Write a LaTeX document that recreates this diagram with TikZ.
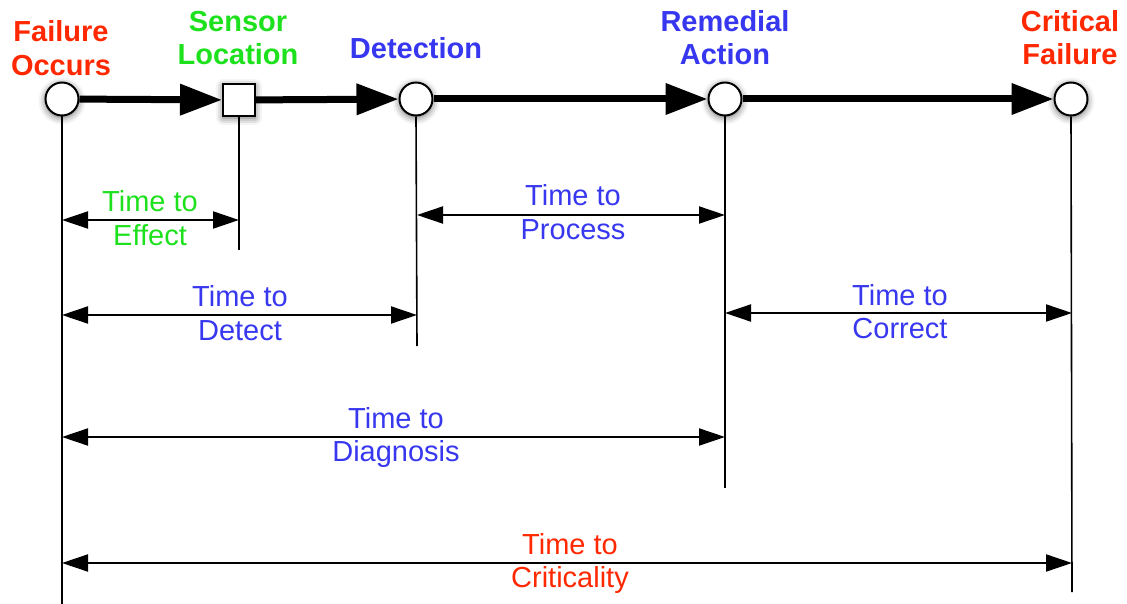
\documentclass[tikz,border=0pt]{standalone}
\usepackage{fontspec}
\setmainfont{Liberation Sans}
\usetikzlibrary{arrows.meta,shadows.blur}

\definecolor{alarmred}{RGB}{255,40,0}
\definecolor{sensegreen}{RGB}{30,225,30}
\definecolor{actblue}{RGB}{55,55,240}

\tikzset{
  softshadow/.style={blur shadow={shadow xshift=0pt, shadow yshift=-2pt,
      shadow blur radius=7pt, shadow opacity=60}},
  event/.style={circle, draw, line width=2pt, fill=white,
      minimum size=33pt, inner sep=0pt, softshadow},
  sensor/.style={rectangle, draw, line width=2pt, fill=white,
      minimum size=32pt, inner sep=0pt, softshadow},
  flow/.style={line width=7pt, -{Triangle[length=42pt,width=30pt]}},
  span/.style={line width=2pt,
      {Triangle[length=26pt,width=17pt]}-{Triangle[length=26pt,width=17pt]}},
  marker/.style={line width=1.6pt},
  % the base anchor of a two-line node sits on its last line
  headline/.style={font=\fontsize{29}{33.5}\selectfont\bfseries,
      align=center, anchor=base, inner sep=0pt},
  spanlabel/.style={font=\fontsize{29}{33.5}\selectfont,
      align=center, anchor=base, inner sep=0pt},
}

\begin{document}
\begin{tikzpicture}[x=1pt, y=-1pt]
  \useasboundingbox (0,0) rectangle (1127,604);

  % milestone labels
  \node[headline, text=alarmred]   (lF) at (61,75.5)  {Failure\\Occurs};
  \node[headline, text=sensegreen] (lS) at (238,65)   {Sensor\\Location};
  \node[headline, text=actblue]    (lD) at (416,58.5) {Detection};
  \node[headline, text=actblue]    (lR) at (725,65)   {Remedial\\Action};
  \node[headline, text=alarmred]   (lC) at (1070,65)  {Critical\\Failure};

  % lower ends of the marker lines
  \coordinate (bF) at (62,604);
  \coordinate (bS) at (239,250);
  \coordinate (bD) at (417,346);
  \coordinate (bR) at (725,488);
  \coordinate (bC) at (1072,592);

  % milestones on the time line
  \node[event]  (F) at (62,99)   {};
  \node[sensor] (S) at (239,100) {};
  \node[event]  (D) at (416,99)  {};
  \node[event]  (R) at (725,99)  {};
  \node[event]  (C) at (1071,99) {};

  \draw[marker] (F.south) -- (bF);
  \draw[marker] (S.south) -- (bS);
  \draw[marker] (D.south) -- (bD);
  \draw[marker] (R.south) -- (bR);
  \draw[marker] (C.south) -- (bC);

  % time line
  \draw[flow] (F) -- (S);
  \draw[flow] (S) -- (D);
  \draw[flow] (D) -- (R);
  \draw[flow] (R) -- (C);

  % interval end points
  \coordinate (effA)  at (62,220);   \coordinate (effB)  at (239,220);
  \coordinate (proA)  at (417,215);  \coordinate (proB)  at (725,215);
  \coordinate (detA)  at (62,315);   \coordinate (detB)  at (417,315);
  \coordinate (corA)  at (725,313);  \coordinate (corB)  at (1072,313);
  \coordinate (diaA)  at (62,437);   \coordinate (diaB)  at (725,437);
  \coordinate (criA)  at (62,563);   \coordinate (criB)  at (1072,563);

  % intervals
  \draw[span] (effA) -- (effB);
  \draw[span] (proA) -- (proB);
  \draw[span] (detA) -- (detB);
  \draw[span] (corA) -- (corB);
  \draw[span] (diaA) -- (diaB);
  \draw[span] (criA) -- (criB);

  \node[spanlabel, text=sensegreen] (tEff) at (150,245.5) {Time to\\Effect};
  \node[spanlabel, text=actblue]    (tPro) at (573,239.5) {Time to\\Process};
  \node[spanlabel, text=actblue]    (tDet) at (240,340)   {Time to\\Detect};
  \node[spanlabel, text=actblue]    (tCor) at (900,338.5) {Time to\\Correct};
  \node[spanlabel, text=actblue]    (tDia) at (396,461.5) {Time to\\Diagnosis};
  \node[spanlabel, text=alarmred]   (tCri) at (570,587.5) {Time to\\Criticality};
\end{tikzpicture}
\end{document}
